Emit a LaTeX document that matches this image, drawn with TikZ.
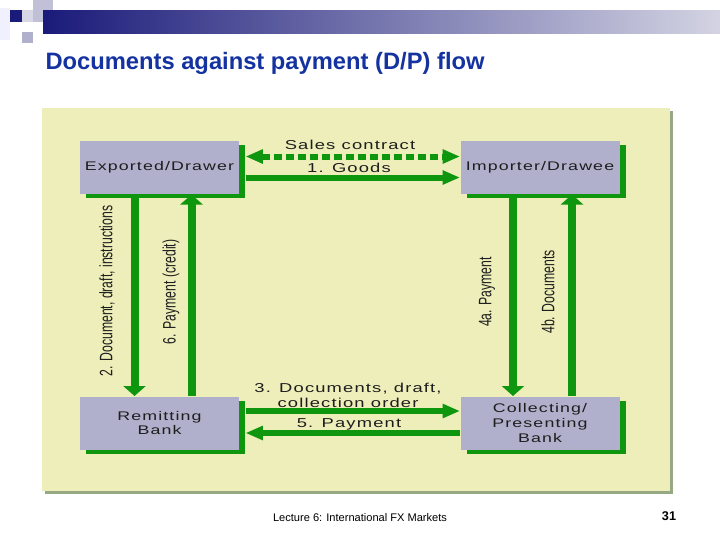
\documentclass[tikz,border=0pt]{standalone}
\usepackage{fontspec}
\setmainfont{Liberation Sans}
\newfontfamily\widefont[FakeStretch=1.42,LetterSpace=9]{Liberation Sans}
\newfontfamily\narrowfont[FakeStretch=0.68]{Liberation Sans}
\usetikzlibrary{arrows.meta,calc,shadows}

\definecolor{flowgreen}{RGB}{14,150,14}
\definecolor{boxlav}{RGB}{176,176,204}
\definecolor{panelyel}{RGB}{238,238,186}
\definecolor{panelshade}{RGB}{150,168,132}
\definecolor{titleblue}{RGB}{20,50,160}
\definecolor{navysq}{RGB}{26,26,122}
\definecolor{textdark}{RGB}{30,30,30}

\tikzset{every picture/.style={line width=0.75pt}}
\tikzset{
  partybox/.style={fill=boxlav, minimum width=119.25pt, minimum height=39.75pt, inner sep=0pt, align=center,
    text=textdark, font=\widefont\fontsize{9.4}{11}\selectfont,
    general shadow={fill=flowgreen, shadow xshift=4.5pt, shadow yshift=-3pt}},
  flowlbl/.style={inner sep=0.75pt, align=center, text=textdark, font=\widefont\fontsize{9.7}{11.2}\selectfont},
  sidelbl/.style={inner sep=0.75pt, rotate=90, text=textdark, font=\narrowfont\fontsize{13.5}{15}\selectfont},
  harrow/.style={draw=flowgreen, line width=4.5pt, arrows={-Triangle[length=13pt,width=10pt]}},
  varrow/.style={draw=flowgreen, line width=6pt, arrows={-Triangle[length=7.5pt,width=16.5pt]}}
}

\begin{document}
\begin{tikzpicture}[x=0.75pt,y=0.75pt,yscale=-1,xscale=1]
\useasboundingbox (0,0) rectangle (720,540);

% Header squares and bar
\fill[blue!6] (0,8) rectangle (10,40);
\fill[boxlav!80] (33,0) rectangle (53,22);
\fill[boxlav!50] (22,10) rectangle (33,22);
\fill[boxlav] (22,32) rectangle (33,43);
\fill[navysq] (10,10) rectangle (22,22);
\shade[left color=navysq, right color=boxlav!55!white] (43,10) rectangle (720,33);

% Title
\node[anchor=base west, inner sep=0pt, text=titleblue, font=\bfseries\fontsize{17.8}{20}\selectfont] (title) at (45,69) {Documents against payment (D/P) flow};

% Panel
\fill[panelshade] (45,111) rectangle (673,494);
\fill[panelyel] (42,108) rectangle (670,491);

% Parties
\node[partybox] (exp) at (159.5,167.5) {Exported/Drawer};
\node[partybox] (imp) at (540,167.5) {Importer/Drawee};
\node[partybox] (rem) at (159.5,423) {Remitting\\Bank};
\node[partybox] (col) at (540,423) {Collecting/\\Presenting\\Bank};

% Horizontal flows
\draw[harrow, arrows={Triangle[length=13pt,width=10pt]-Triangle[length=13pt,width=10pt]}, dash pattern=on 6pt off 3pt]
  ($(exp.north east)+(6,16)$) -- ($(imp.north west)+(0,16)$);
\draw[harrow] ($(exp.north east)+(6,37)$) -- ($(imp.north west)+(0,37)$);
\draw[harrow] ($(rem.north east)+(6,15)$) -- ($(col.north west)+(0,15)$);
\draw[harrow] ($(col.north west)+(0,37)$) -- ($(rem.north east)+(6,37)$);

% Vertical flows
\draw[varrow] ($(exp.south west)+(55,0)$) -- ($(rem.north west)+(55,0)$);
\draw[varrow] ($(rem.north west)+(112,0)$) -- ($(exp.south west)+(112,0)$);
\draw[varrow] ($(imp.south west)+(53,0)$) -- ($(col.north west)+(53,0)$);
\draw[varrow] ($(col.north west)+(112,0)$) -- ($(imp.south west)+(112,0)$);

% Text Node
\node[flowlbl] (sales) at (350,145) {Sales contract};
\node[flowlbl] (goods) at (349,168) {1. Goods};
\node[flowlbl] (docs) at (348,395) {3. Documents, draft,\\collection order};
\node[flowlbl] (pay5) at (349,424) {5. Payment};

% Side labels
\node[sidelbl] (instr) at (107,291) {2. Document, draft, instructions};
\node[sidelbl] (credit) at (171,292) {6. Payment (credit)};
\node[sidelbl] (pay4a) at (487,292) {4a. Payment};
\node[sidelbl] (docs4b) at (548,292) {4b. Documents};

% Footer
\node[inner sep=0pt, font=\fontsize{8.3}{10}\selectfont] (footer) at (360,518) {Lecture 6: International FX Markets};
\node[inner sep=0pt, font=\bfseries\fontsize{9.5}{11}\selectfont] (pagenum) at (669,516) {31};

\end{tikzpicture}
\end{document}
